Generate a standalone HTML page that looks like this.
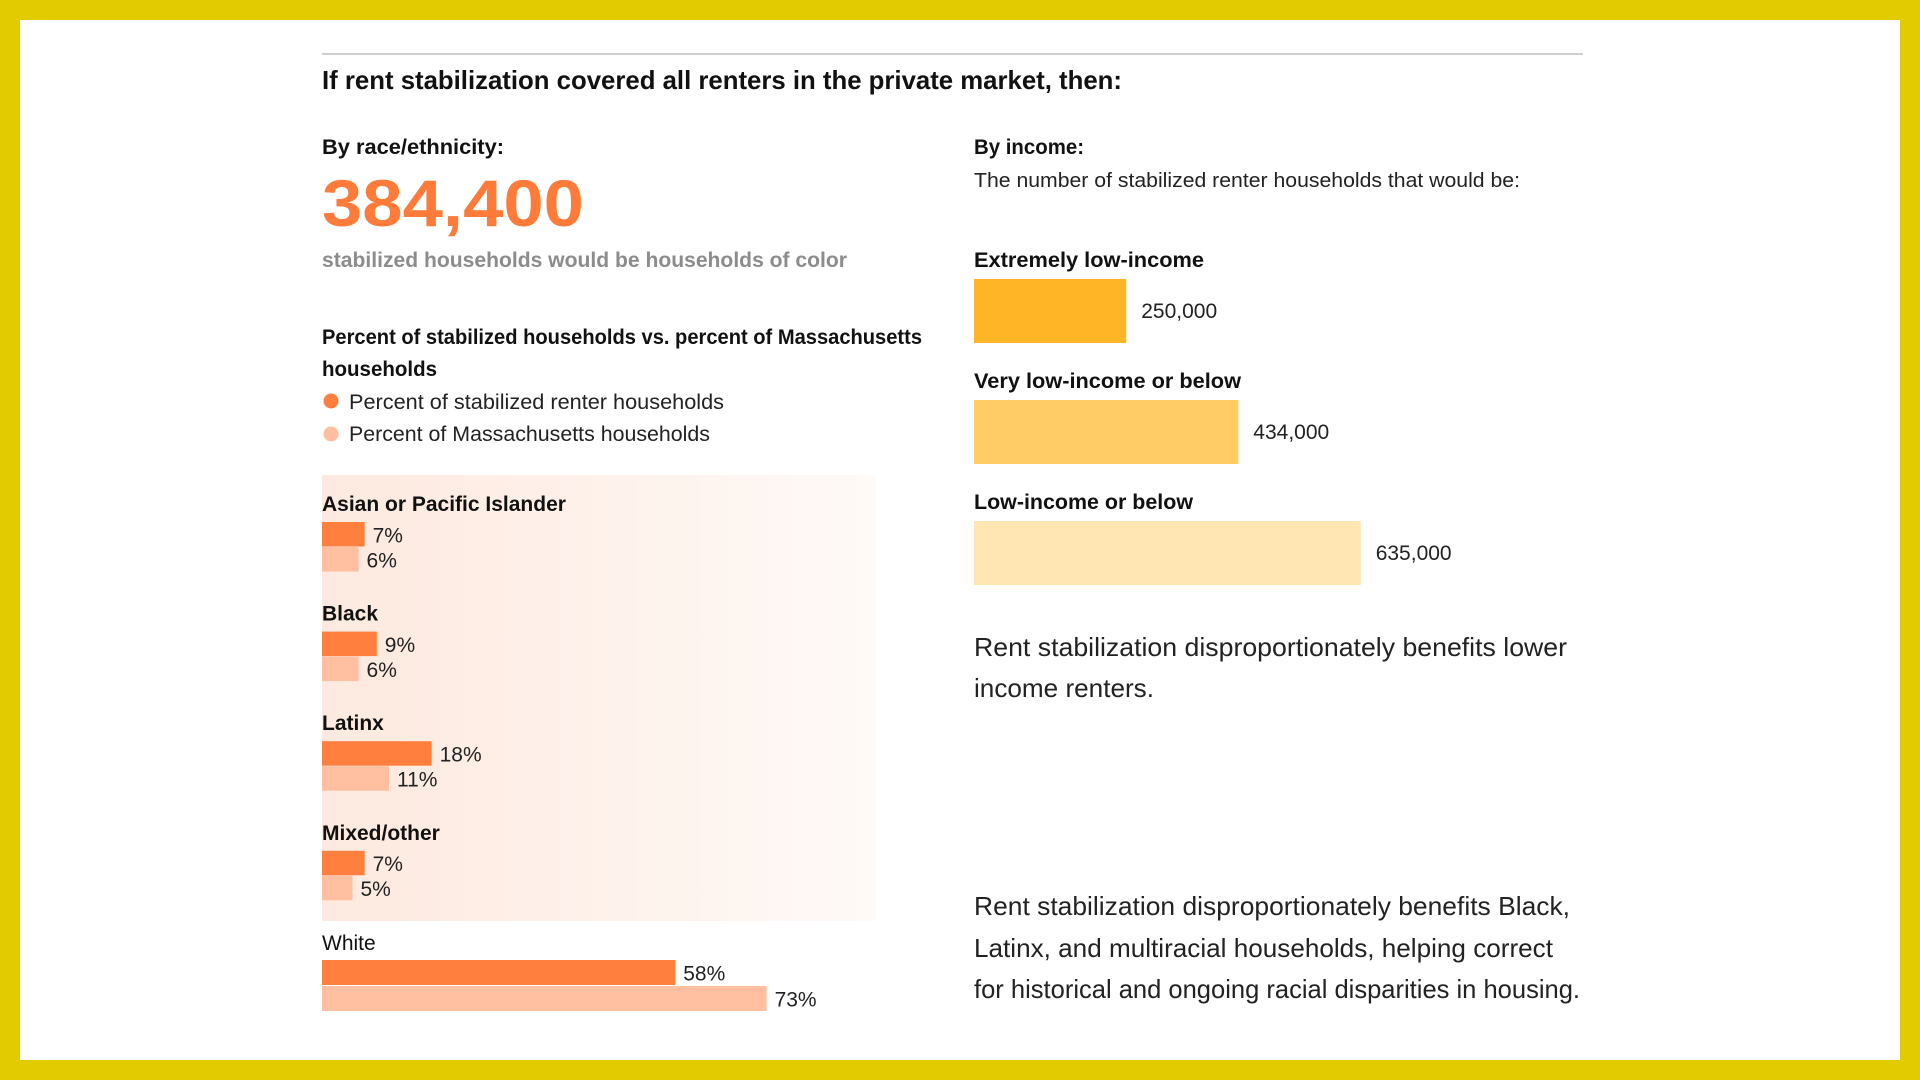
<!DOCTYPE html>
<html><head><meta charset="utf-8"><style>
html,body{margin:0;padding:0;background:#e2cc00;}
svg{display:block;}
text{font-family:"Liberation Sans",sans-serif;}
</style></head><body>
<svg id="chart" width="1920" height="1080" viewBox="0 0 1920 1080" xmlns="http://www.w3.org/2000/svg">
<defs>
<linearGradient id="panelGrad" x1="0" y1="0" x2="1" y2="0">
<stop offset="0" stop-color="#fde9df"/><stop offset="1" stop-color="#fffaf7"/>
</linearGradient>
</defs>
<rect x="0" y="0" width="1920" height="1080" fill="#e2cc00"/>
<rect x="20" y="20" width="1880" height="1040" fill="#ffffff"/>
<line x1="322" y1="54" x2="1583" y2="54" stroke="#cfcfcf" stroke-width="2"/>
<text x="322" y="89" font-size="26" font-weight="bold" fill="#111" textLength="800" lengthAdjust="spacingAndGlyphs">If rent stabilization covered all renters in the private market, then:</text>

<text x="322" y="154" font-size="21" font-weight="bold" fill="#111" textLength="182" lengthAdjust="spacingAndGlyphs">By race/ethnicity:</text>
<text x="322" y="226" font-size="66" font-weight="bold" fill="#ff7b3a" textLength="262" lengthAdjust="spacingAndGlyphs">384,400</text>
<text x="322" y="267" font-size="21" font-weight="bold" fill="#8c8c8c" textLength="525" lengthAdjust="spacingAndGlyphs">stabilized households would be households of color</text>

<text x="322" y="344" font-size="21" font-weight="bold" fill="#111" textLength="600" lengthAdjust="spacingAndGlyphs">Percent of stabilized households vs. percent of Massachusetts</text>
<text x="322" y="376" font-size="21" font-weight="bold" fill="#111" textLength="115" lengthAdjust="spacingAndGlyphs">households</text>
<g>
<circle cx="331" cy="401" r="7.5" fill="#ff7f3f"/>
<text x="349" y="409" font-size="21" fill="#222" textLength="375" lengthAdjust="spacingAndGlyphs">Percent of stabilized renter households</text>
</g>
<g>
<circle cx="331" cy="434" r="7.5" fill="#ffbfa0"/>
<text x="349" y="441" font-size="21" fill="#222" textLength="361" lengthAdjust="spacingAndGlyphs">Percent of Massachusetts households</text>
</g>
<rect x="322" y="475" width="554" height="446" fill="url(#panelGrad)"/>
<g id="raceBars"></g>

<text x="974" y="154" font-size="21" font-weight="bold" fill="#111" textLength="110" lengthAdjust="spacingAndGlyphs">By income:</text>
<text x="974" y="187" font-size="20" fill="#222" textLength="546" lengthAdjust="spacingAndGlyphs">The number of stabilized renter households that would be:</text>
<g id="incomeBars"></g>

<g>
<text x="974" y="656" font-size="26" fill="#222" textLength="593" lengthAdjust="spacingAndGlyphs">Rent stabilization disproportionately benefits lower</text>
<text x="974" y="697" font-size="26" fill="#222" textLength="180" lengthAdjust="spacingAndGlyphs">income renters.</text>
</g>
<g>
<text x="974" y="915" font-size="26" fill="#222" textLength="596" lengthAdjust="spacingAndGlyphs">Rent stabilization disproportionately benefits Black,</text>
<text x="974" y="957" font-size="26" fill="#222" textLength="579" lengthAdjust="spacingAndGlyphs">Latinx, and multiracial households, helping correct</text>
<text x="974" y="998" font-size="26" fill="#222" textLength="606" lengthAdjust="spacingAndGlyphs">for historical and ongoing racial disparities in housing.</text>
</g>
</svg>
<script>
const raceCategories = ["Asian or Pacific Islander", "Black", "Latinx", "Mixed/other", "White"];
const stabilizedPct = [7, 9, 18, 7, 58];
const massPct = [6, 6, 11, 5, 73];
const incomeCategories = ["Extremely low-income", "Very low-income or below", "Low-income or below"];
const incomeValues = [250000, 434000, 635000];
const incomeLabels = ["250,000", "434,000", "635,000"];

const NS = "http://www.w3.org/2000/svg";
function mk(tag, attrs, parent) {
  const e = document.createElementNS(NS, tag);
  for (const k in attrs) e.setAttribute(k, attrs[k]);
  parent.appendChild(e);
  return e;
}
const xPct = v => v * 6.09;
const xInc = v => v * 0.000609;

const rg = document.getElementById("raceBars");
raceCategories.forEach((cat, i) => {
  const white = i === 4;
  const top = white ? 943 : 504 + i * 109.6;
  const g = mk("g", {}, rg);
  
  
  const lab = mk("text", {x: 322, y: top + 7, "font-size": 21, "font-weight": white ? "normal" : "bold", fill: "#111"}, g);
  lab.textContent = cat;
  
  
  const h = white ? 25 : 24.5;
  const y1 = white ? 960 : top + 18;
  const y2 = y1 + h + (white ? 1 : 0.5);
  const b1 = mk("rect", {x: 322, y: y1, width: xPct(stabilizedPct[i]), height: h, fill: "#ff7f3f"}, g);
  
  
  const b2 = mk("rect", {x: 322, y: y2, width: xPct(massPct[i]), height: h, fill: "#ffbfa0"}, g);
  
  
  const t1 = mk("text", {x: 322 + xPct(stabilizedPct[i]) + 8, y: y1 + h / 2 + 8, "font-size": 21, fill: "#222"}, g);
  t1.textContent = stabilizedPct[i] + "%";
  
  
  const t2 = mk("text", {x: 322 + xPct(massPct[i]) + 8, y: y2 + h / 2 + 8, "font-size": 21, fill: "#222"}, g);
  t2.textContent = massPct[i] + "%";
  
  
});

const incColors = ["#ffb526", "#ffcc66", "#ffe6b3"];
const incLabelW = [230, 267, 219];
const ig = document.getElementById("incomeBars");
incomeCategories.forEach((cat, i) => {
  const labY = 260 + i * 121;
  const g = mk("g", {}, ig);
  
  
  const lab = mk("text", {x: 974, y: labY + 7, "font-size": 21, "font-weight": "bold", fill: "#111", textLength: incLabelW[i], lengthAdjust: "spacingAndGlyphs"}, g);
  lab.textContent = cat;
  
  
  const by = labY + 19;
  const w = xInc(incomeValues[i]);
  const b = mk("rect", {x: 974, y: by, width: w, height: 64, fill: incColors[i]}, g);
  
  
  const t = mk("text", {x: 974 + w + 15, y: by + 39, "font-size": 21, fill: "#222"}, g);
  t.textContent = incomeLabels[i];
  
  
});
</script>
</body></html>
